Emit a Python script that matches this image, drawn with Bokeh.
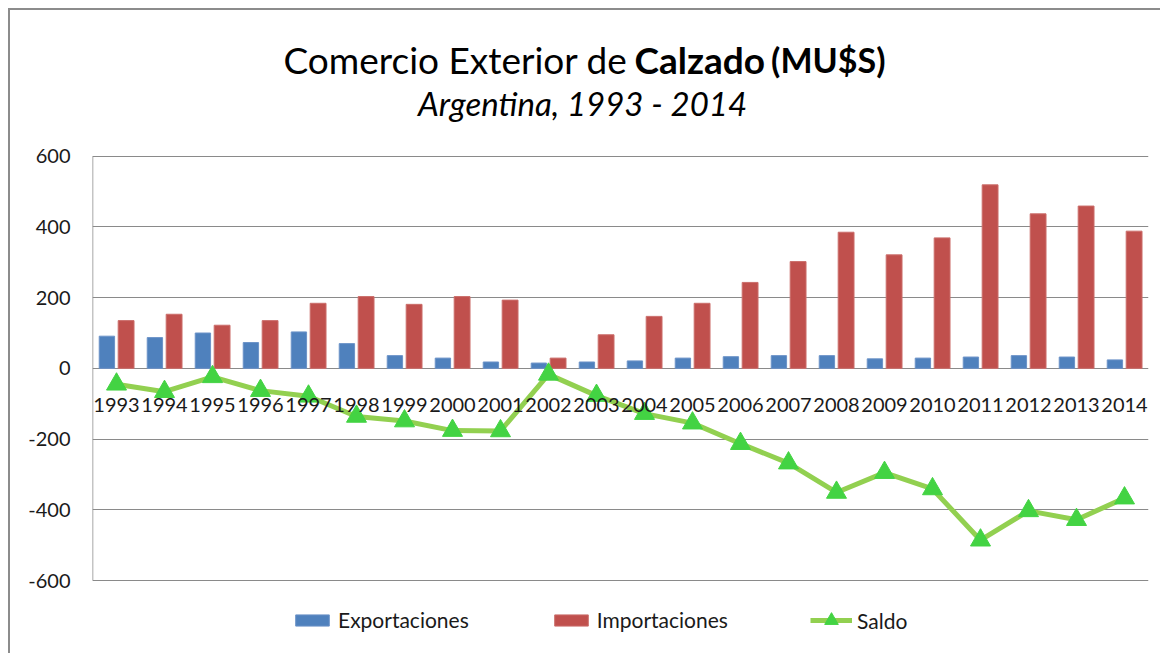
from bokeh.plotting import figure
from bokeh.models import (ColumnDataSource, FactorRange, Legend, LegendItem, Label, FixedTicker,
                          Range1d, PrintfTickFormatter)
from bokeh.transform import dodge
from bokeh.embed import file_html
from bokeh.resources import INLINE

years = [str(y) for y in range(1993, 2015)]
exportaciones = [91, 87, 100, 73, 103, 70, 36, 29, 18, 15, 18, 21, 29, 33, 36, 36, 27, 29, 32, 36, 32, 24]
importaciones = [135, 153, 122, 135, 184, 203, 181, 203, 193, 29, 95, 147, 184, 243, 302, 385, 321, 369, 519, 437, 459, 388]
saldo = [-45, -66, -24, -63, -79, -136, -149, -176, -177, -17, -77, -128, -155, -213, -268, -351, -295, -341, -486, -403, -428, -367]
y_ticks = [-600, -400, -200, 0, 200, 400, 600]

FONT = "Lato"

src = ColumnDataSource(dict(year=years, exp=exportaciones, imp=importaciones, saldo=saldo))

# frame spans the full canvas height so titles / legend (drawn as annotations) are not clipped;
# the y range is extended so that -600..600 occupies the plot area of the reference
p = figure(x_range=FactorRange(*years, range_padding=0), y_range=Range1d(-812, 1012),
           width=1152, height=645, output_backend="svg", toolbar_location=None,
           title=None, min_border_left=82, min_border_right=14, min_border_top=0,
           min_border_bottom=0, outline_line_color=None, background_fill_color="white",
           border_fill_color="white")

r_exp = p.vbar(x=dodge("year", -0.2, range=p.x_range), top="exp", width=0.32, source=src,
               fill_color="#4F81BD", line_color="#6C93C8", line_width=1)
r_imp = p.vbar(x=dodge("year", 0.2, range=p.x_range), top="imp", width=0.33, source=src,
               fill_color="#C0504D", line_color="#CB6E6B", line_width=1)
r_line = p.line(x="year", y="saldo", source=src, line_color="#92D050", line_width=5)
r_pts = p.scatter(x="year", y="saldo", source=src, marker="triangle", size=20,
                  fill_color="#43D343", line_color="#43D343")

# left border of plot area (value axis line), from first tick to last tick
axis_src = ColumnDataSource(dict(x=[years[0]], y0=[y_ticks[0]], y1=[y_ticks[-1]]))
p.segment(x0=dodge("x", -0.5, range=p.x_range), x1=dodge("x", -0.5, range=p.x_range),
          y0="y0", y1="y1", source=axis_src, line_color="#8a8a8a", line_width=1.5)

# axes
p.xaxis.fixed_location = 0
p.xaxis.axis_line_color = None
p.xaxis.major_tick_line_color = None
p.xaxis.minor_tick_line_color = None
p.xaxis.major_label_text_font = FONT
p.xaxis.major_label_text_font_size = "20px"
p.xaxis.major_label_text_color = "#1a1a1a"
p.xaxis.major_label_standoff = 24
p.xgrid.grid_line_color = None

p.yaxis.ticker = FixedTicker(ticks=y_ticks)
p.ygrid.ticker = FixedTicker(ticks=y_ticks)
p.yaxis.formatter = PrintfTickFormatter(format="%d")
p.yaxis.axis_line_color = None
p.yaxis.major_tick_line_color = None
p.yaxis.minor_tick_line_color = None
p.yaxis.major_label_text_font = FONT
p.yaxis.major_label_text_font_size = "20px"
p.yaxis.major_label_text_color = "#1a1a1a"
p.yaxis.major_label_standoff = 16
p.ygrid.grid_line_color = "#8a8a8a"
p.ygrid.grid_line_width = 1.2

# legends (the line+marker entry gets a taller glyph so its triangle is visible)
legend_bars = Legend(items=[LegendItem(label="Exportaciones", renderers=[r_exp]),
                            LegendItem(label="Importaciones", renderers=[r_imp])],
                     orientation="horizontal", location=(199, 23), spacing=81,
                     glyph_width=42, glyph_height=14, label_standoff=5, padding=0, margin=0,
                     border_line_color=None, background_fill_alpha=0,
                     label_text_font=FONT, label_text_font_size="21px", label_text_color="#1a1a1a")
legend_line = Legend(items=[LegendItem(label="Saldo", renderers=[r_line, r_pts])],
                     orientation="horizontal", location=(718, 18),
                     glyph_width=42, glyph_height=34, label_standoff=5, padding=0, margin=0,
                     border_line_color=None, background_fill_alpha=0,
                     label_text_font=FONT, label_text_font_size="21px", label_text_color="#1a1a1a")
p.add_layout(legend_bars, "center")
p.add_layout(legend_line, "center")

# title pieces (screen units: from frame left / frame bottom)
p.add_layout(Label(x=535, y=596, x_units="screen", y_units="screen", text="Comercio Exterior de",
                   text_align="right", text_baseline="alphabetic", text_font=FONT,
                   text_font_size="37px", text_color="black"))
p.add_layout(Label(x=542, y=596, x_units="screen", y_units="screen", text="Calzado",
                   text_align="left", text_baseline="alphabetic", text_font=FONT,
                   text_font_size="37px", text_font_style="bold", text_color="black"))
p.add_layout(Label(x=793, y=596, x_units="screen", y_units="screen", text="(MU$S)",
                   text_align="right", text_baseline="alphabetic", text_font=FONT,
                   text_font_size="34px", text_font_style="bold", text_color="black"))
p.add_layout(Label(x=490, y=553, x_units="screen", y_units="screen", text="Argentina, 1993 - 2014",
                   text_align="center", text_baseline="alphabetic", text_font=FONT,
                   text_font_size="33px", text_font_style="italic", text_color="black"))

p.styles = {"margin-left": "8px", "margin-top": "8px",
            "border-top": "2px solid #8c8c8c", "border-left": "2px solid #8c8c8c"}

open("out.html", "w").write(file_html(p, INLINE))
